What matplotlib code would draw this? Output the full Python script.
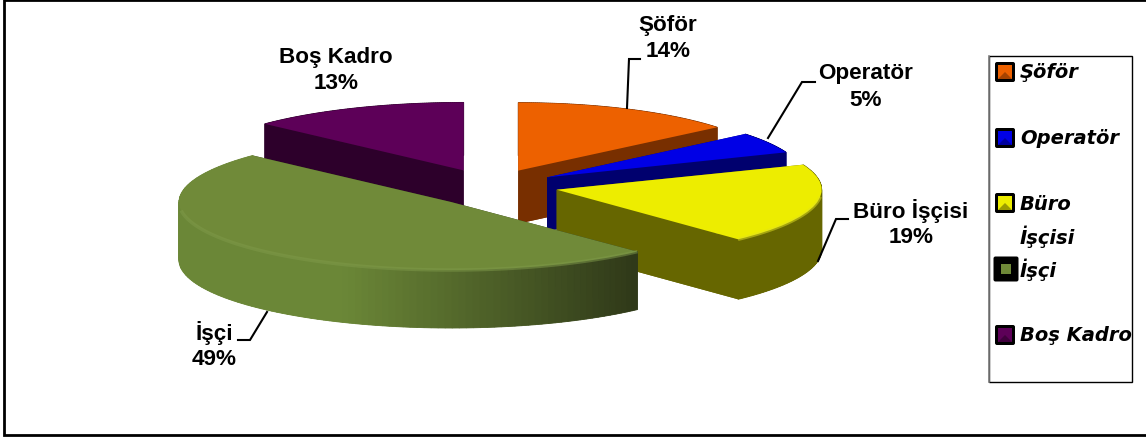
import numpy as np
import matplotlib
matplotlib.use("Agg")
import matplotlib.pyplot as plt
from matplotlib.patches import Polygon, Rectangle, FancyBboxPatch
from matplotlib.transforms import Affine2D

# data
names = ["Şöför", "Operatör", "Büro İşçisi", "İşçi", "Boş Kadro"]
values = [14, 5, 19, 49, 13]
top_colors = ["#ed6100", "#0000e6", "#eded00", "#708a39", "#5d0058"]
wall_colors = ["#782f00", "#00006e", "#666600", "#6b8737", "#2d002b"]
rank = [1, 2, 3, 4, 0]      # order back to front

W, H = 1146, 439
fig = plt.figure(figsize=(W / 100, H / 100), dpi=100)
ax = fig.add_axes([0, 0, 1, 1])

# pie center and radii in pixels
cx, cy, rx, ry = 490, 187, 265, 68

# perspective corrections per slice: x scale, shift x px, shift y px, depth px
x_scale = [0.975, 0.97, 1.0, 1.027, 1.03]
shift_x = [0, 0, 2, 8, 0]
shift_y = [0, 0, 0, 4, 0]
depth_px = [53, 53, 60, 58, 53]

wedges, _ = ax.pie(values, explode=[0.25] * 5, startangle=90, counterclock=False,
                   colors=top_colors, wedgeprops={"linewidth": 0})
ax.set_aspect("auto")
ax.set_xlim(-cx / rx, (W - cx) / rx)
ax.set_ylim((cy - H) / ry, cy / ry)


def shade_green(px):
    # side of the big slice gets dark to the right
    t = np.clip((px - 340) / (639 - 340), 0, 1)
    a = np.array([107, 135, 55]) / 255
    b = np.array([46, 55, 24]) / 255
    return a + (b - a) * t


for i, w in enumerate(wedges):
    z = 10 * (rank[i] + 1)
    c0, c1 = w.center
    # scale about the slice's own apex, then shift
    nc0 = c0 + shift_x[i] / rx
    nc1 = c1 - shift_y[i] / ry
    w.set_transform(Affine2D().translate(-c0, -c1).scale(x_scale[i], 1).translate(nc0, nc1) + ax.transData)
    w.set_zorder(z + 5)
    depth = depth_px[i] / ry
    th = np.radians(np.linspace(w.theta1, w.theta2, 120))
    xs = nc0 + x_scale[i] * w.r * np.cos(th)
    ys = nc1 + w.r * np.sin(th)

    # bottom plate and the two flat sides
    ring_x = np.r_[nc0, xs]
    ring_y = np.r_[nc1, ys]
    ax.add_patch(Polygon(np.c_[ring_x, ring_y - depth], closed=True, fc=wall_colors[i], ec="none", zorder=z))
    for xe, ye in [(xs[0], ys[0]), (xs[-1], ys[-1])]:
        ax.add_patch(Polygon([(nc0, nc1), (xe, ye), (xe, ye - depth), (nc0, nc1 - depth)], closed=True,
                             fc=wall_colors[i] if i != 3 else shade_green(639), ec="none", zorder=z + 1))
    # outer wall
    for k in range(len(th) - 1):
        col = wall_colors[i]
        if i == 3:
            col = shade_green(cx + rx * xs[k])
        ax.add_patch(Polygon([(xs[k], ys[k]), (xs[k + 1], ys[k + 1]),
                              (xs[k + 1], ys[k + 1] - depth), (xs[k], ys[k] - depth)],
                             closed=True, fc=col, ec=col, lw=0.6, zorder=z + 2))

    # soft rim on yellow and green, only where the wall shows
    if i in (2, 3):
        front = ys < nc1 - 0.1
        rim = "#e2e220" if i == 2 else "#7f9a4a"
        ax.plot(xs[front], ys[front], color=rim, lw=2.5, alpha=0.5, zorder=z + 6, solid_capstyle="butt")

# overlay in pixel coordinates
ov = fig.add_axes([0, 0, 1, 1], facecolor="none")
ov.set_xlim(0, W)
ov.set_ylim(H, 0)
ov.axis("off")

# outer frame, open on the right
ov.plot([W, 3.5, 3.5, W], [1, 1, 436, 436], color="black", lw=2.0, solid_joinstyle="miter")

# labels
font = ["Liberation Sans", "DejaVu Sans"]
label_pos = [(668, 25), (866, 74), (911, 211), (214, 333), (336, 57)]
for n, v, (lx, ly) in zip(names, values, label_pos):
    ov.text(lx, ly, n, ha="center", va="center", family=font, fontsize=16.2, fontweight="bold")
    ov.text(lx, ly + 26.5, f"{v}%", ha="center", va="center", family=font, fontsize=16.2, fontweight="bold")

# leader lines
leader_x = [[627, 629, 640], [768, 802, 815], [818, 836, 848], [267, 250, 238]]
leader_y = [[109, 60, 60], [139, 83, 83], [262, 220, 220], [313, 341, 341]]
for lx, ly in zip(leader_x, leader_y):
    ov.plot(lx, ly, color="black", lw=1.5, solid_joinstyle="miter")

# legend box
ov.add_patch(Rectangle((989, 57), 143, 326, fc="white", ec="black", lw=1.0))
ov.plot([988.5, 988.5], [57, 383], color="#808080", lw=1.2)

leg_lines = [("Şöför", 73), ("Operatör", 139), ("Büro", 205), ("İşçisi", 237), ("İşçi", 270), ("Boş Kadro", 336)]
for t, ly in leg_lines:
    ov.text(1020, ly, t, ha="left", va="center", family="DejaVu Sans", style="italic",
            fontweight="bold", fontsize=14, color="black")

box_y = [73, 139, 204, 270, 336]
box_size = [20, 20, 20, 25, 20]
inner = [7, 7, 7, 5, 7]
for i, (by, s, hs) in enumerate(zip(box_y, box_size, inner)):
    bx = 1005 if i != 3 else 1006
    ov.add_patch(FancyBboxPatch((bx - s / 2 + 1, by - s / 2 + 1), s - 2, s - 2, boxstyle="round,pad=1,rounding_size=2",
                                fc="black", ec="none"))
    ov.add_patch(Rectangle((bx - hs, by - hs), 2 * hs, 2 * hs, fc=top_colors[i], ec="none"))
    ov.add_patch(Polygon([(bx - hs, by + hs), (bx + hs, by + hs), (bx, by)], closed=True,
                         fc=wall_colors[i], ec="none", alpha=0.6))

fig.savefig("out.png", dpi=100, facecolor="white")
